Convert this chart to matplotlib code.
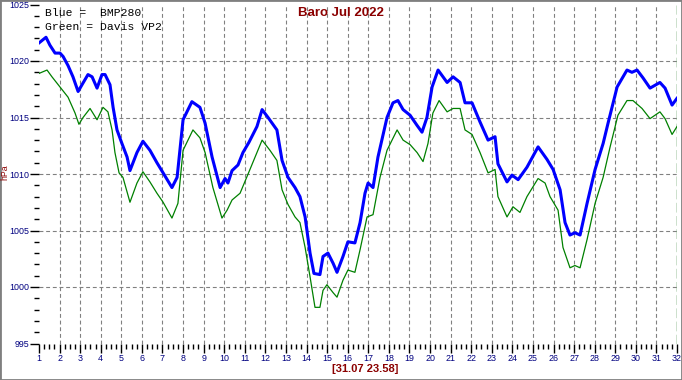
import numpy as np
import matplotlib
matplotlib.use("Agg")
from matplotlib import pyplot as plt
from matplotlib import font_manager
from matplotlib.patches import Rectangle
from matplotlib.ticker import MultipleLocator


# day of month (fractional) and pressure in hPa
blue_days = [1.00, 1.34, 1.53, 1.78, 2.02, 2.17, 2.41, 2.65, 2.90, 3.09, 3.38, 3.58,
             3.82, 4.06, 4.21, 4.45, 4.60, 4.79, 5.03, 5.28, 5.42, 5.76, 6.05, 6.39,
             6.73, 7.03, 7.46, 7.71, 8.00, 8.43, 8.82, 9.07, 9.41, 9.80, 10.04, 10.18,
             10.38, 10.67, 10.91, 11.20, 11.59, 11.84, 12.13, 12.56, 12.81, 13.10, 13.44,
             13.68, 13.93, 14.17, 14.36, 14.65, 14.80, 15.04, 15.29, 15.48, 15.77, 16.01,
             16.35, 16.60, 16.84, 16.99, 17.23, 17.47, 17.91, 18.20, 18.44, 18.69, 19.03,
             19.37, 19.61, 19.85, 20.10, 20.39, 20.83, 21.12, 21.46, 21.70, 22.04, 22.43,
             22.82, 23.16, 23.30, 23.74, 23.98, 24.28, 24.71, 25.25, 25.68, 25.98, 26.32,
             26.56, 26.80, 27.04, 27.29, 27.63, 28.02, 28.41, 28.65, 29.09, 29.57, 29.81,
             30.06, 30.35, 30.69, 31.17, 31.42, 31.76, 32.00]
blue_hpa = [1021.6, 1022.1, 1021.4, 1020.7, 1020.7, 1020.4, 1019.6, 1018.6, 1017.3, 1017.9,
            1018.8, 1018.6, 1017.6, 1018.8, 1018.8, 1017.9, 1015.9, 1013.9, 1012.7, 1011.5,
            1010.3, 1011.9, 1012.9, 1012.1, 1011.0, 1010.1, 1008.8, 1009.7, 1014.8, 1016.4,
            1015.9, 1014.5, 1011.5, 1008.8, 1009.6, 1009.2, 1010.3, 1010.8, 1011.9, 1012.8,
            1014.2, 1015.7, 1015.0, 1013.9, 1011.2, 1009.7, 1008.8, 1008.0, 1006.2, 1003.0,
            1001.2, 1001.1, 1002.7, 1003.0, 1002.1, 1001.3, 1002.7, 1004.0, 1003.9, 1005.7,
            1008.3, 1009.2, 1008.8, 1011.5, 1015.0, 1016.3, 1016.5, 1015.7, 1015.2, 1014.3,
            1013.7, 1015.0, 1017.7, 1019.2, 1018.1, 1018.6, 1018.1, 1016.3, 1016.3, 1014.6,
            1013.0, 1013.3, 1010.9, 1009.3, 1009.9, 1009.5, 1010.6, 1012.4, 1011.3, 1010.4,
            1008.6, 1005.7, 1004.6, 1004.8, 1004.6, 1007.4, 1010.4, 1012.7, 1014.5, 1017.7,
            1019.2, 1019.0, 1019.2, 1018.5, 1017.6, 1018.1, 1017.6, 1016.1, 1016.7]

green_days = [1.00, 1.39, 1.63, 2.02, 2.41, 2.75, 2.94, 3.14, 3.48, 3.82, 4.11, 4.35, 4.55,
              4.69, 4.89, 5.08, 5.42, 5.76, 6.05, 6.39, 6.73, 7.03, 7.46, 7.75, 8.00, 8.48,
              8.82, 9.07, 9.45, 9.89, 10.14, 10.38, 10.77, 11.25, 11.59, 11.84, 12.22, 12.56,
              12.81, 13.10, 13.44, 13.68, 13.93, 14.17, 14.41, 14.65, 14.80, 14.99, 15.29,
              15.48, 15.77, 16.01, 16.35, 16.60, 16.94, 17.23, 17.57, 17.91, 18.40, 18.69,
              19.03, 19.37, 19.66, 19.90, 20.14, 20.44, 20.83, 21.12, 21.46, 21.70, 22.04,
              22.43, 22.82, 23.16, 23.30, 23.74, 24.03, 24.37, 24.71, 25.25, 25.59, 25.83,
              26.22, 26.46, 26.80, 27.04, 27.29, 27.63, 28.02, 28.41, 28.75, 29.13, 29.57,
              29.86, 30.30, 30.69, 31.17, 31.42, 31.76, 32.00]
green_hpa = [1018.9, 1019.2, 1018.6, 1017.7, 1016.8, 1015.4, 1014.4, 1015.0, 1015.8, 1014.8,
             1015.9, 1015.5, 1013.9, 1011.9, 1010.1, 1009.7, 1007.5, 1009.2, 1010.2, 1009.3,
             1008.3, 1007.5, 1006.1, 1007.4, 1012.1, 1013.9, 1013.2, 1011.9, 1008.8, 1006.1,
             1006.8, 1007.7, 1008.3, 1010.4, 1011.9, 1013.0, 1012.1, 1011.2, 1008.6, 1007.3,
             1006.2, 1005.7, 1003.5, 1000.9, 998.2, 998.2, 999.7, 1000.2, 999.5, 999.1,
             1000.6, 1001.5, 1001.3, 1003.3, 1006.2, 1006.4, 1009.7, 1012.1, 1013.9, 1013.0,
             1012.6, 1011.9, 1011.1, 1012.7, 1015.4, 1016.5, 1015.5, 1015.8, 1015.8, 1013.9,
             1013.5, 1011.9, 1010.1, 1010.4, 1008.0, 1006.2, 1007.1, 1006.6, 1008.0, 1009.6,
             1009.2, 1008.0, 1006.8, 1003.5, 1001.7, 1001.9, 1001.7, 1004.2, 1007.4, 1009.7,
             1012.4, 1015.2, 1016.5, 1016.5, 1015.8, 1014.9, 1015.5, 1014.9, 1013.5, 1014.2]

day_ticks = list(range(1, 33))
hpa_ticks = [995, 1000, 1005, 1010, 1015, 1020, 1025]
title = "Baro Jul 2022"
stamp = "[31.07 23.58]"
legend_lines = ["Blue =  BMP280", "Green = Davis VP2"]

navy = "#000080"
darkred = "#8b0000"
gridc = "#808080"

# the original uses a narrow sans for the tick numbers
installed = {f.name for f in font_manager.fontManager.ttflist}
tick_font = "Liberation Sans Narrow" if "Liberation Sans Narrow" in installed else "Liberation Sans"
tick_size = 7 if tick_font.endswith("Narrow") else 6.4

fig = plt.figure(figsize=(6.82, 3.80), dpi=100)
fig.patch.set_facecolor("white")
ax = fig.add_axes([39 / 682, 1 - 343.5 / 380, (677 - 39) / 682, (343.5 - 4.5) / 380])

ax.set_xlim(1, 32)
ax.set_ylim(995, 1025)

# grid (no lines on the outer limits)
ax.vlines(day_ticks[1:-1], 995, 1025, colors=gridc, linestyles=(0, (3.5, 2.5)), lw=0.8, zorder=1)
ax.hlines(hpa_ticks[1:-1], 1, 32, colors=gridc, linestyles=(0, (3.5, 2.5)), lw=0.8, zorder=1)
# "now" marker
ax.axvline(day_ticks[-1], color="#006400", ls=(0, (7, 2.5)), lw=1.0, zorder=2)

ax.plot(green_days, green_hpa, color="#008000", lw=0.9, zorder=3)
ax.plot(blue_days, blue_hpa, color="#0000ff", lw=2.2, zorder=4)

for s in ax.spines.values():
    s.set_visible(False)

ax.set_xticks(day_ticks)
ax.set_yticks(hpa_ticks)
ax.xaxis.set_minor_locator(MultipleLocator(0.25))
ax.yaxis.set_minor_locator(MultipleLocator(1))
ax.tick_params(which="major", direction="out", length=6.2, width=1, color="black",
               labelsize=tick_size, labelcolor=navy, pad=0.8)
ax.tick_params(axis="x", which="major", pad=1.6)
ax.tick_params(which="minor", direction="out", length=3.5, width=1, color="black")
for lab in ax.get_xticklabels() + ax.get_yticklabels():
    lab.set_family(tick_font)

fig.text(341 / 682, 1 - 13 / 380, title, ha="center", va="center", color=darkred,
         fontsize=9.5, fontweight="bold", family="Liberation Sans")
fig.text(4.5 / 682, 1 - 172 / 380, "hPa", ha="center", va="center", rotation=90,
         color=darkred, fontsize=6.3, family="Liberation Sans")
fig.text(365 / 682, 1 - 369 / 380, stamp, ha="center", va="center", color=darkred,
         fontsize=8, fontweight="bold", family="Liberation Sans")
for i, line in enumerate(legend_lines):
    fig.text(45 / 682, 1 - (13 + 14 * i) / 380, line, ha="left", va="center",
             color="black", fontsize=8.2, family="Liberation Mono")

fig.patches.append(Rectangle((0, 0), 1, 1, transform=fig.transFigure, fill=False,
                             edgecolor="#7f7f7f", lw=2.0))

fig.savefig("out.png", dpi=100)
